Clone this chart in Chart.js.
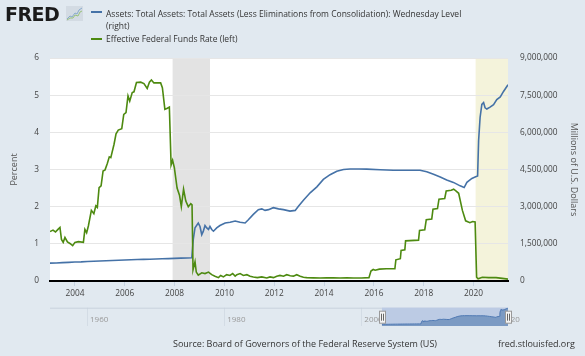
<!DOCTYPE html>
<html><head><meta charset="utf-8">
<script src="https://cdn.jsdelivr.net/npm/chart.js@4"></script>
<style>
html,body{margin:0;padding:0;background:#e1e9f0;width:585px;height:356px;overflow:hidden;font-family:'Open Sans',sans-serif;}
#wrap{position:relative;width:585px;height:356px;}
canvas{position:absolute;left:0;}
.t{position:absolute;white-space:nowrap;color:#333;font-size:9px;line-height:11px;font-family:'Open Sans',sans-serif;}
.lg{font-size:8.5px;}
.sw{position:absolute;height:2px;width:11px;}
</style></head>
<body><div id="wrap">
<canvas id="main" width="585" height="356" style="top:0;width:585px;height:356px"></canvas>
<canvas id="nav" width="585" height="36" style="top:300px;width:585px;height:36px"></canvas>
<div id="logo" style="position:absolute;left:5px;top:5px;font:bold 19px 'DejaVu Sans',sans-serif;line-height:19px;color:#1b1b1b;letter-spacing:-0.5px">FRED</div>
<svg style="position:absolute;left:66px;top:6px" width="17" height="15">
  <rect x="0" y="0" width="17" height="15" fill="#d3dbe3"/>
  <polyline points="1,13 4,10 6,11 9,7 11,8 13,4 16,2" fill="none" stroke="#88aacc" stroke-width="1"/>
  <polyline points="1,14 4,12 7,12 9,9 12,10 14,6 16,5" fill="none" stroke="#99c27a" stroke-width="1"/>
</svg>
<div class="sw" style="left:91px;top:11px;background:#4572a7"></div>
<div class="t lg" id="lg1" style="left:106px;top:8px"></div>
<div class="t lg" style="left:106px;top:20px">(right)</div>
<div class="sw" style="left:91px;top:38px;background:#4d8a10"></div>
<div class="t lg" id="lg2" style="left:106px;top:33px"></div>
<div class="t" style="left:173px;top:338px">Source: Board of Governors of the Federal Reserve System (US)</div>
<div class="t" style="left:498px;top:338px">fred.stlouisfed.org</div>
</div>
<script>
// ---------- data ----------
const assetLabel = 'Assets: Total Assets: Total Assets (Less Eliminations from Consolidation): Wednesday Level';
const effrLabel = 'Effective Federal Funds Rate (left)';

const effrYears = [2003.00,2003.12,2003.22,2003.32,2003.40,2003.46,2003.53,2003.60,2003.70,2003.80,2003.91,
 2004.00,2004.14,2004.34,2004.40,2004.47,2004.54,2004.66,2004.76,2004.84,2004.90,2004.97,
 2005.05,2005.13,2005.21,2005.30,2005.38,2005.44,2005.57,2005.65,2005.74,2005.88,2005.96,
 2006.05,2006.13,2006.20,2006.30,2006.37,2006.47,2006.64,2006.77,2006.90,2006.99,
 2007.07,2007.17,2007.31,2007.44,2007.51,2007.61,2007.71,2007.79,2007.86,2007.92,2007.99,
 2008.10,2008.20,2008.27,2008.36,2008.45,2008.55,2008.65,2008.70,2008.74,2008.82,2008.87,2008.95,
 2009.09,2009.22,2009.36,2009.49,2009.62,2009.76,2009.85,2009.96,
 2010.09,2010.22,2010.33,2010.43,2010.50,2010.63,2010.76,2010.90,
 2011.03,2011.16,2011.32,2011.50,2011.70,2011.83,2011.97,
 2012.10,2012.23,2012.37,2012.50,2012.64,2012.77,2012.90,
 2013.04,2013.17,2013.30,2013.57,2013.84,2014.10,2014.37,2014.64,2014.91,
 2015.18,2015.50,2015.80,2015.88,2015.97,2016.05,2016.22,2016.50,2016.84,2016.88,
 2017.06,2017.09,2017.24,2017.27,2017.79,2017.83,2018.04,2018.10,2018.32,2018.37,2018.55,2018.61,2018.84,2018.90,
 2019.10,2019.20,2019.30,2019.40,2019.55,2019.68,2019.85,2019.96,
 2020.06,2020.12,2020.18,2020.35,2020.60,2020.90,2021.15,2021.38];
const effrValues = [1.33,1.37,1.32,1.39,1.44,1.12,1.04,1.17,1.05,1.01,0.95,
 1.04,1.06,1.04,1.39,1.30,1.48,1.90,1.81,2.02,1.98,2.51,
 2.56,2.96,2.99,3.16,3.34,3.32,3.68,3.96,4.06,4.10,4.48,
 4.53,4.98,4.84,5.07,5.09,5.34,5.35,5.31,5.18,5.35,
 5.41,5.33,5.33,5.33,5.20,4.62,4.65,4.68,3.12,3.25,3.05,
 2.50,2.30,2.00,2.47,2.15,2.00,2.08,2.05,0.30,0.52,0.24,0.16,
 0.22,0.20,0.24,0.17,0.13,0.09,0.15,0.11,
 0.17,0.15,0.20,0.13,0.17,0.20,0.15,0.17,
 0.13,0.11,0.09,0.11,0.08,0.11,0.09,
 0.13,0.15,0.13,0.17,0.14,0.13,0.17,
 0.13,0.10,0.09,0.085,0.08,0.085,0.085,0.08,0.085,
 0.08,0.08,0.09,0.27,0.31,0.29,0.32,0.33,0.33,0.57,
 0.60,0.82,0.84,1.08,1.10,1.36,1.38,1.65,1.67,1.93,1.95,2.20,2.22,2.42,
 2.44,2.47,2.42,2.36,1.90,1.62,1.57,1.60,
 1.59,0.10,0.06,0.10,0.09,0.09,0.07,0.05];

const assetYears = [2003.00,2003.25,2003.50,2003.75,2004.00,2004.25,2004.50,2004.75,2005.00,2005.25,2005.50,2005.75,
 2006.00,2006.25,2006.50,2006.75,2007.00,2007.25,2007.50,2007.75,2008.00,2008.25,2008.50,2008.69,
 2008.75,2008.82,2008.95,2009.02,2009.09,2009.15,2009.22,2009.29,2009.36,2009.42,2009.49,2009.56,2009.69,2009.82,
 2010.03,2010.23,2010.43,2010.63,2010.83,2010.96,2011.16,2011.36,2011.50,2011.63,2011.77,2011.96,
 2012.17,2012.37,2012.63,2012.84,2012.97,2013.17,2013.44,2013.71,2013.97,2014.24,2014.51,2014.78,
 2015.04,2015.40,2015.71,2016.25,2016.78,2017.32,2017.85,2018.12,2018.39,2018.66,2018.92,
 2019.19,2019.46,2019.62,2019.73,2019.93,2020.06,2020.16,2020.20,2020.26,2020.33,2020.40,2020.46,2020.53,
 2020.66,2020.80,2020.93,2021.07,2021.20,2021.38];
const assetValues = [720000,728000,742000,752000,765000,772000,785000,797000,810000,818000,830000,840000,
 850000,857000,865000,872000,880000,885000,895000,905000,915000,922000,928000,935000,
 1680000,2150000,2340000,2200000,1870000,2000000,2240000,2140000,2080000,2200000,2080000,2010000,2140000,2240000,
 2340000,2370000,2420000,2370000,2340000,2470000,2690000,2880000,2910000,2850000,2880000,2960000,
 2910000,2880000,2820000,2850000,3020000,3260000,3560000,3800000,4100000,4290000,4430000,4500000,
 4520000,4520000,4515000,4490000,4470000,4470000,4470000,4410000,4310000,4200000,4080000,
 3980000,3840000,3770000,3980000,4140000,4200000,4240000,5660000,6600000,7130000,7200000,6990000,6940000,
 7020000,7120000,7320000,7430000,7650000,7920000];

const xTickYears = [2004,2006,2008,2010,2012,2014,2016,2018,2020];
const navTickYears = [1960,1980,2000,2020];
const recessionStarts = [2007.92, 2020.08];
const recessionEnds = [2009.42, 2021.38];
const navSelection = [2003.0, 2021.38];

// ---------- chart ----------
document.getElementById('lg1').textContent = assetLabel;
document.getElementById('lg2').textContent = effrLabel;
Chart.defaults.font.family = "'Open Sans', sans-serif";
const pts = (xs, ys) => xs.map((x, i) => ({x: x, y: ys[i]}));
const tickFont = {family: "'Open Sans', sans-serif", size: 8.3};

const shadePlugin = {
  id: 'shade',
  beforeDraw(chart) {
    const {ctx, chartArea: a} = chart;
    const x = chart.scales.x;
    ctx.save();
    ctx.fillStyle = '#ffffff';
    ctx.fillRect(a.left, a.top, a.right - a.left, a.bottom - a.top);
    recessionStarts.forEach((s, i) => {
      const x0 = x.getPixelForValue(s), x1 = x.getPixelForValue(recessionEnds[i]);
      ctx.fillStyle = i === recessionStarts.length - 1 ? '#f4f3db' : '#e3e3e3';
      ctx.fillRect(x0, a.top, x1 - x0, a.bottom - a.top);
    });
    ctx.restore();
  }
};

new Chart(document.getElementById('main'), {
  type: 'line',
  data: {datasets: [
    {label: effrLabel, data: pts(effrYears, effrValues), yAxisID: 'y', borderColor: '#4d8a10', borderWidth: 1.6,
     pointRadius: 0, tension: 0, order: 0},
    {label: assetLabel, data: pts(assetYears, assetValues), yAxisID: 'y2', borderColor: '#4572a7', borderWidth: 1.6,
     pointRadius: 0, tension: 0, order: 1}
  ]},
  options: {
    responsive: false, animation: false, devicePixelRatio: 1,
    layout: {padding: {top: 58, left: 0, right: 0, bottom: 0}},
    plugins: {legend: {display: false}, tooltip: {enabled: false}},
    scales: {
      x: {type: 'linear', min: 2003.0, max: 2021.38,
          afterBuildTicks(s) { s.ticks = xTickYears.map(v => ({value: v})); },
          afterFit(s) { s.height = 75; s.paddingLeft = 0; s.paddingRight = 0; },
          grid: {drawOnChartArea: false, drawTicks: true, tickLength: 5, color: '#c6d3e2'},
          border: {display: true, color: '#000000', width: 2},
          ticks: {padding: 2.3, color: '#444', font: tickFont, maxRotation: 0, autoSkip: false,
                  callback: v => String(v)}},
      y: {position: 'left', min: 0, max: 6,
          afterFit(s) { s.width = 50; },
          ticks: {stepSize: 1, padding: 11, color: '#444', font: tickFont},
          grid: {color: '#e6e6e6', drawTicks: false}, border: {display: false},
          title: {display: true, text: 'Percent', color: '#555', font: {size: 9}, padding: {top: 9, bottom: 0}}},
      y2: {position: 'right', min: 0, max: 9000000,
          afterFit(s) { s.width = 77; },
          ticks: {stepSize: 1500000, padding: 12, color: '#444', font: tickFont,
                  callback: v => v.toLocaleString('en-US')},
          grid: {drawOnChartArea: false, drawTicks: false}, border: {display: false},
          title: {display: true, text: 'Millions of U.S. Dollars', color: '#555', font: {size: 9}, padding: {top: 5.6, bottom: 0}}}
    }
  },
  plugins: [shadePlugin]
});

// ---------- navigator ----------
const navPlugin = {
  id: 'navmask',
  beforeDatasetsDraw(chart) {
    const {ctx, chartArea: a} = chart;
    const x = chart.scales.x;
    ctx.save();
    ctx.strokeStyle = '#c9d3dd'; ctx.lineWidth = 1;
    ctx.beginPath(); ctx.moveTo(a.left, a.top + 0.5); ctx.lineTo(a.right, a.top + 0.5); ctx.stroke();
    const x0 = x.getPixelForValue(navSelection[0]), x1 = x.getPixelForValue(navSelection[1]);
    ctx.fillStyle = '#bccbe4';
    ctx.fillRect(x0, a.top, x1 - x0, a.bottom - a.top);
    ctx.restore();
  },
  afterDatasetsDraw(chart) {
    const {ctx, chartArea: a} = chart;
    const x = chart.scales.x;
    ctx.save();
    navSelection.forEach(v => {
      const px = Math.round(x.getPixelForValue(v));
      ctx.fillStyle = '#f4f4f4'; ctx.strokeStyle = '#999'; ctx.lineWidth = 1;
      ctx.fillRect(px - 3, a.top + 3.5, 6, 12);
      ctx.strokeRect(px - 2.5, a.top + 3.5, 6, 12);
      ctx.beginPath();
      ctx.moveTo(px - 0.5, a.top + 6); ctx.lineTo(px - 0.5, a.top + 13);
      ctx.moveTo(px + 1.5, a.top + 6); ctx.lineTo(px + 1.5, a.top + 13);
      ctx.strokeStyle = '#666'; ctx.stroke();
    });
    ctx.restore();
  }
};

new Chart(document.getElementById('nav'), {
  type: 'line',
  data: {datasets: [
    {data: pts(assetYears, assetValues), borderColor: '#4f79b3', borderWidth: 1, backgroundColor: 'rgba(69,114,167,0.55)',
     fill: 'origin', pointRadius: 0, tension: 0}
  ]},
  options: {
    responsive: false, animation: false, devicePixelRatio: 1,
    layout: {padding: {top: 7.7, left: 50, right: 77, bottom: 0}},
    plugins: {legend: {display: false}, tooltip: {enabled: false}},
    scales: {
      x: {type: 'linear', min: 1954.6, max: 2021.38,
          afterBuildTicks(s) { s.ticks = navTickYears.map(v => ({value: v})); },
          afterFit(s) { s.height = 10; s.paddingLeft = 0; s.paddingRight = 0; },
          grid: {drawOnChartArea: true, drawTicks: false, color: '#d3dce5'},
          border: {display: false},
          ticks: {mirror: true, padding: 1.5, align: 'start', labelOffset: 3, color: '#999', font: {size: 8},
                  maxRotation: 0, autoSkip: false, callback: v => String(v)}},
      y: {display: false, min: 0, max: 8000000}
    }
  },
  plugins: [navPlugin]
});
</script>
</body></html>
